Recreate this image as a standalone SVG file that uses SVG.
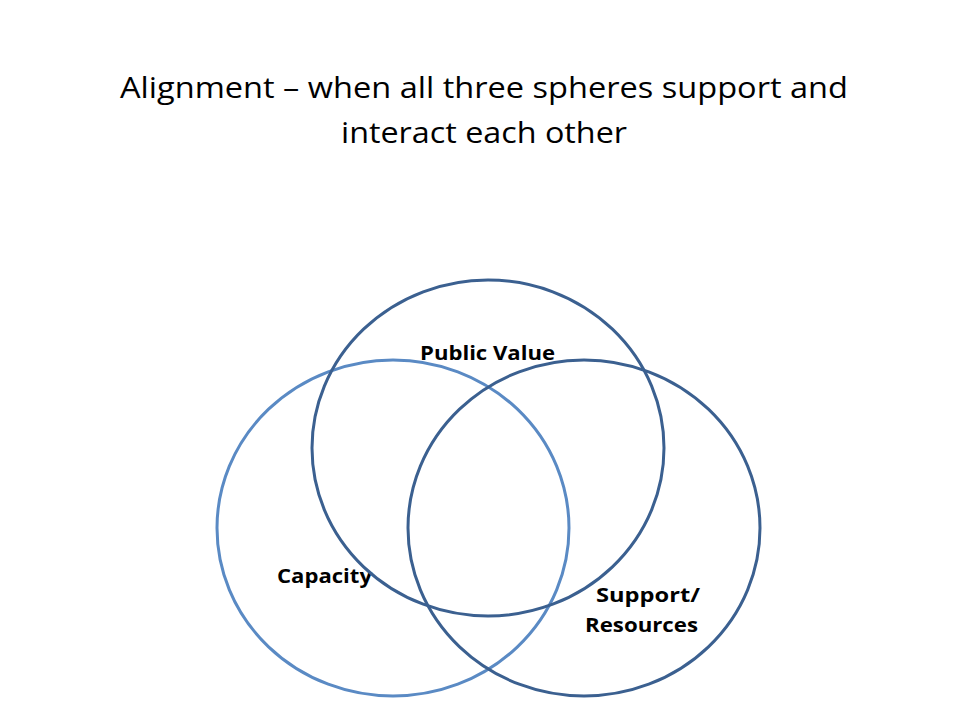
<svg xmlns="http://www.w3.org/2000/svg" width="960" height="720" viewBox="0 0 960 720">
<style>
.title{font-family:"Open Sans","Liberation Sans",sans-serif;font-size:30px;fill:#000;text-anchor:middle}
.lbl{font-family:"Open Sans","Liberation Sans",sans-serif;font-size:19px;font-weight:bold;fill:#000}
.c{fill:none;stroke-width:3}
</style>
<rect width="960" height="720" fill="#fff"/>
<g id="title">
<text class="title" x="484" y="98" textLength="728" lengthAdjust="spacingAndGlyphs">Alignment – when all three spheres support and</text>
<text class="title" x="484" y="143" textLength="286" lengthAdjust="spacingAndGlyphs">interact each other</text>
</g>
<g id="capacity">
<ellipse class="c" cx="393" cy="528" rx="176" ry="168" stroke="#5A8AC4"/>
<text class="lbl" x="277" y="583" textLength="95" lengthAdjust="spacingAndGlyphs">Capacity</text>
</g>
<g id="public-value">
<ellipse class="c" cx="488" cy="448" rx="176" ry="168" stroke="#3B6090"/>
<text class="lbl" x="420" y="360" textLength="135" lengthAdjust="spacingAndGlyphs">Public Value</text>
</g>
<g id="support-resources">
<ellipse class="c" cx="584" cy="528" rx="176" ry="168" stroke="#3B6090"/>
<text class="lbl" x="700" y="602" text-anchor="end" textLength="104" lengthAdjust="spacingAndGlyphs">Support/</text>
<text class="lbl" x="698" y="632" text-anchor="end" textLength="113" lengthAdjust="spacingAndGlyphs">Resources</text>
</g>
<g id="connectors"></g>
</svg>
